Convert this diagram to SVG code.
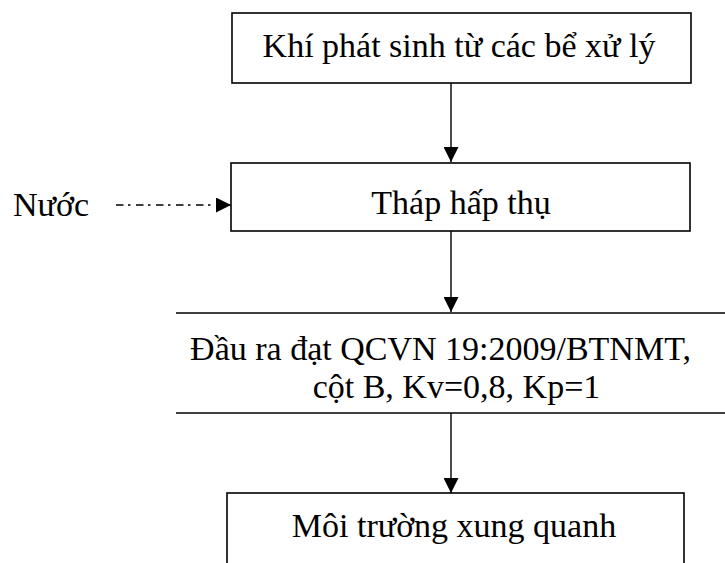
<svg xmlns="http://www.w3.org/2000/svg" width="725" height="563" viewBox="0 0 725 563">
<style>
  .box { fill: #fff; stroke: #000; stroke-width: 1.6; }
  .edge { fill: none; stroke: #000; stroke-width: 1.4; }
  .t { font-family: "Liberation Serif", "Times New Roman", serif; font-size: 34px; fill: #000; }
</style>
<defs>
  <marker id="ah" markerWidth="15" markerHeight="15" refX="15" refY="7.5" orient="auto" markerUnits="userSpaceOnUse">
    <path d="M0,0 L15,7.5 L0,15 Z" fill="#000"/>
  </marker>
</defs>
<rect width="725" height="563" fill="#fff"/>
<g id="connectors">
  <line class="edge" x1="451" y1="83" x2="451" y2="162" marker-end="url(#ah)"/>
  <line class="edge" x1="451" y1="231" x2="451" y2="312" marker-end="url(#ah)"/>
  <line class="edge" x1="451" y1="413" x2="451" y2="493" marker-end="url(#ah)"/>
  <line class="edge" x1="116" y1="205" x2="231" y2="205" stroke-dasharray="7.5 4.5 2.5 5.5" marker-end="url(#ah)"/>
</g>
<g id="node1">
  <rect class="box" x="232" y="13" width="459" height="70"/>
  <text class="t" x="459" y="57" text-anchor="middle">Khí phát sinh từ các bể xử lý</text>
</g>
<g id="water">
  <text class="t" x="13" y="216">Nước</text>
</g>
<g id="node2">
  <rect class="box" x="231" y="163" width="459" height="68"/>
  <text class="t" x="461" y="214" text-anchor="middle">Tháp hấp thụ</text>
</g>
<g id="node3">
  <rect x="176" y="313" width="560" height="100" fill="#fff"/>
  <line class="edge" x1="176" y1="313" x2="725" y2="313" stroke-width="1.6"/>
  <line class="edge" x1="176" y1="413" x2="725" y2="413" stroke-width="1.6"/>
  <text class="t" x="440.5" y="360" text-anchor="middle">Đầu ra đạt QCVN 19:2009/BTNMT,</text>
  <text class="t" x="456.5" y="398" text-anchor="middle">cột B, Kv=0,8, Kp=1</text>
</g>
<g id="node4">
  <rect class="box" x="227" y="493" width="457" height="90"/>
  <text class="t" x="454" y="537" text-anchor="middle">Môi trường xung quanh</text>
</g>
</svg>
